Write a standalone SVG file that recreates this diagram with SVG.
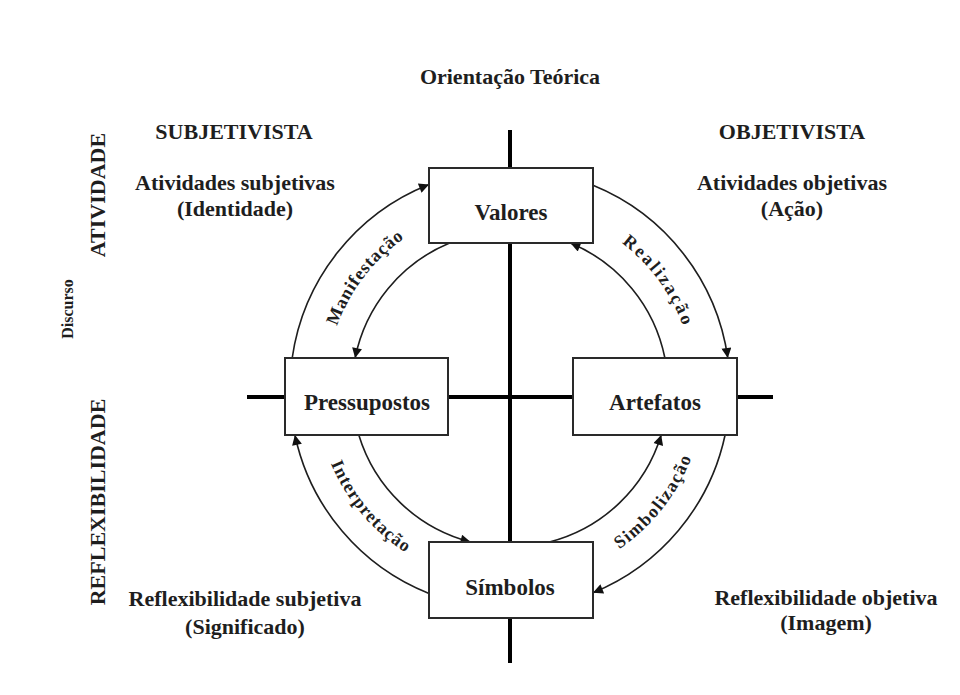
<svg xmlns="http://www.w3.org/2000/svg" width="960" height="695" viewBox="0 0 960 695">
  <style>
    .t { font-family: "Liberation Serif", "Times New Roman", serif; font-weight: bold; fill: #1e1e1e; }
    .q { font-size: 22px; text-anchor: middle; }
    .n { font-size: 23px; text-anchor: middle; }
    .d { font-size: 16px; text-anchor: middle; }
    .box { fill: #ffffff; stroke: #2a2a2a; stroke-width: 2; }
    .axis { stroke: #000000; stroke-width: 4; fill: none; }
    .arc { fill: none; stroke: #1e1e1e; stroke-width: 1.6; marker-end: url(#ah); }
    .lbl { font-size: 18px; }
  </style>
  <defs>
    <marker id="ah" viewBox="0 0 10 10" refX="10" refY="5" markerWidth="13" markerHeight="10" markerUnits="userSpaceOnUse" orient="auto">
      <path d="M0,0 L10,5 L0,10 z" fill="#111111"/>
    </marker>
    <path id="pManif" d="M326.2,397.3 A184,184 0 0 1 469.9,209.4"/>
    <path id="pReal" d="M553.3,210.2 A184,184 0 0 1 693.6,400.6"/>
    <path id="pInter" d="M316,389 A194,194 0 0 0 476.3,580.1"/>
    <path id="pSimb" d="M549.3,578.9 A194,194 0 0 0 703.9,383.2"/>
  </defs>
  <rect x="0" y="0" width="960" height="695" fill="#ffffff"/>

  <g id="axes">
    <line class="axis" x1="510" y1="130" x2="510" y2="663"/>
    <line class="axis" x1="247" y1="397" x2="773" y2="397"/>
  </g>

  <g id="connectors">
    <path class="arc" d="M292.2,358 A220,220 0 0 1 429,184.5"/>
    <path class="arc" d="M449.6,243 A158,158 0 0 0 355.1,358"/>
    <path class="arc" d="M593,185.3 A220,220 0 0 1 727.8,358"/>
    <path class="arc" d="M664.9,358 A158,158 0 0 0 570.4,243"/>
    <path class="arc" d="M725.1,435 A220,220 0 0 1 593,592.7"/>
    <path class="arc" d="M549.4,542 A158,158 0 0 0 661.2,435"/>
    <path class="arc" d="M429,593.5 A220,220 0 0 1 294.9,435"/>
    <path class="arc" d="M358.8,435 A158,158 0 0 0 470.6,542"/>
  </g>

  <g id="connector-labels">
    <text class="t lbl"><textPath href="#pManif" startOffset="50%" text-anchor="middle" textLength="112" lengthAdjust="spacing">Manifestação</textPath></text>
    <text class="t lbl"><textPath href="#pReal" startOffset="50%" text-anchor="middle" textLength="104" lengthAdjust="spacing">Realização</textPath></text>
    <text class="t lbl"><textPath href="#pInter" startOffset="50%" text-anchor="middle" textLength="118" lengthAdjust="spacing">Interpretação</textPath></text>
    <text class="t lbl"><textPath href="#pSimb" startOffset="50%" text-anchor="middle" textLength="118" lengthAdjust="spacing">Simbolização</textPath></text>
  </g>

  <g id="node-valores">
    <rect class="box" x="429" y="168" width="164" height="75"/>
    <text class="t n" x="511" y="220">Valores</text>
  </g>
  <g id="node-pressupostos">
    <rect class="box" x="285" y="358" width="163" height="77"/>
    <text class="t n" x="367" y="410">Pressupostos</text>
  </g>
  <g id="node-artefatos">
    <rect class="box" x="573" y="358" width="164" height="77"/>
    <text class="t n" x="655" y="410">Artefatos</text>
  </g>
  <g id="node-simbolos">
    <rect class="box" x="429" y="542" width="164" height="76"/>
    <text class="t n" x="510" y="595">Símbolos</text>
  </g>

  <g id="labels">
    <text class="t q" x="510" y="84">Orientação Teórica</text>
    <text class="t q" x="234" y="139">SUBJETIVISTA</text>
    <text class="t q" x="792" y="139">OBJETIVISTA</text>
    <text class="t q" x="235" y="190">Atividades subjetivas</text>
    <text class="t q" x="235" y="216">(Identidade)</text>
    <text class="t q" x="792" y="190">Atividades objetivas</text>
    <text class="t q" x="792" y="216">(Ação)</text>
    <text class="t q" x="245" y="606">Reflexibilidade subjetiva</text>
    <text class="t q" x="245" y="634">(Significado)</text>
    <text class="t q" x="826" y="605">Reflexibilidade objetiva</text>
    <text class="t q" x="826" y="630">(Imagem)</text>
    <text class="t q" transform="translate(105,195) rotate(-90)">ATIVIDADE</text>
    <text class="t q" transform="translate(105,502) rotate(-90)">REFLEXIBILIDADE</text>
    <text class="t d" transform="translate(73,309) rotate(-90)">Discurso</text>
  </g>
</svg>
